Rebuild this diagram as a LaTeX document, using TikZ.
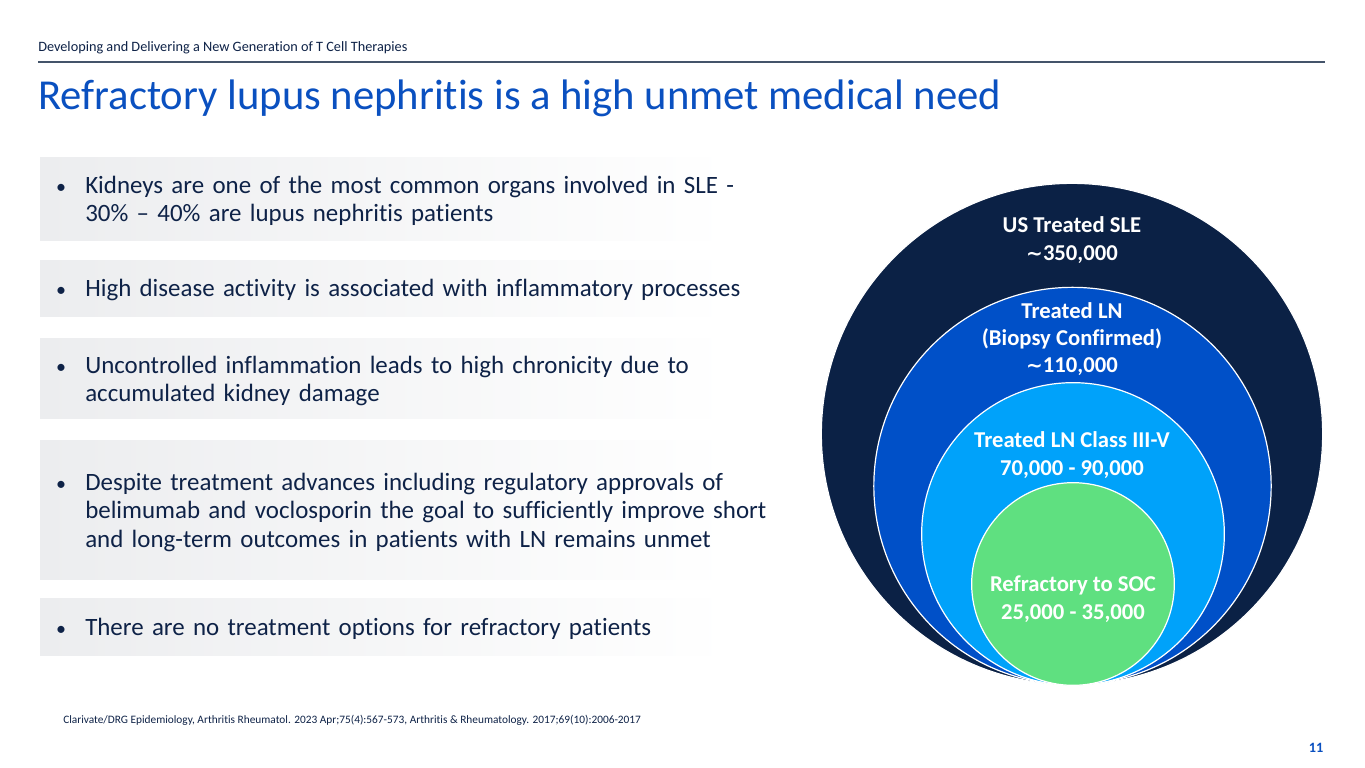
\documentclass[tikz,border=0pt]{standalone}
\usepackage{fontspec}
\setmainfont{Carlito}[Ligatures={NoCommon,NoContextual,NoRare}]
\newfontfamily\symfam{DejaVu Sans}
\definecolor{navy}{HTML}{0B2145}
\definecolor{txtnavy}{HTML}{0E2247}
\definecolor{royal}{HTML}{0050C8}
\definecolor{sky}{HTML}{00A2FA}
\definecolor{mint}{HTML}{5FE080}
\definecolor{titleblue}{HTML}{0A50C0}
\definecolor{rulegray}{HTML}{44546A}
\definecolor{barfill}{HTML}{ECEDEF}
\newcommand{\apx}{{\symfam\fontsize{15}{15}\selectfont ∼}}
\begin{document}
\begin{tikzpicture}[x=0.75pt,y=-0.75pt,
  bar/.style={shading=axis,left color=barfill,right color=white,shading angle=90},
  bullettext/.style={anchor=base west,align=left,text width=560pt,font=\fontsize{18.7}{21.5}\selectfont,text=txtnavy,inner sep=0pt},
  dot/.style={anchor=base,font=\fontsize{15}{21.5}\selectfont,text=txtnavy,inner sep=0pt},
  ring/.style={circle,draw=white,line width=0.9pt,inner sep=0pt},
  ringlabel/.style={align=center,text=white,font=\fontsize{17}{20.5}\selectfont\bfseries,inner sep=0pt}
]
\useasboundingbox (0,0) rectangle (1365,768);
\fill[white] (0,0) rectangle (1365,768);
% header
\node[anchor=base west,inner sep=0pt,text=txtnavy,font=\fontsize{10.7}{12}\selectfont] (hdr) at (38,51) {Developing and Delivering a New Generation of T Cell Therapies};
\coordinate (ruleL) at (38,62);
\coordinate (ruleR) at (1325,62);
\draw[rulegray,line width=0.8pt] (ruleL) -- (ruleR);
% title
\node[anchor=base west,inner sep=0pt,text=titleblue,font=\fontsize{32}{38}\selectfont] (title) at (38,109) {Refractory lupus nephritis is a high unmet medical need};
% bars
\shade[bar] (40,157) rectangle (730,240);
\shade[bar] (40,260) rectangle (730,316);
\shade[bar] (40,338) rectangle (730,418);
\shade[bar] (40,440) rectangle (730,579);
\shade[bar] (40,598) rectangle (730,655);
% bullets
\node[dot] (d1) at (61,193) {•};
\node[bullettext] (t1) at (85,193) {Kidneys are one of the most common organs involved in SLE -\\30\% – 40\% are lupus nephritis patients};
\node[dot] (d2) at (61,296) {•};
\node[bullettext] (t2) at (85,296) {High disease activity is associated with inflammatory processes};
\node[dot] (d3) at (61,373) {•};
\node[bullettext] (t3) at (85,373) {Uncontrolled inflammation leads to high chronicity due to\\accumulated kidney damage};
\node[dot] (d4) at (61,490) {•};
\node[bullettext] (t4) at (85,490) {Despite treatment advances including regulatory approvals of\\belimumab and voclosporin the goal to sufficiently improve short\\and long-term outcomes in patients with LN remains unmet};
\node[dot] (d5) at (61,635) {•};
\node[bullettext] (t5) at (85,635) {There are no treatment options for refractory patients};
% circles
\node[ring,fill=navy,minimum size=376pt] (c1) at (1072,434) {};
\node[ring,fill=royal,minimum size=298pt] (c2) at (1072.5,486) {};
\node[ring,fill=sky,minimum size=227pt] (c3) at (1073,534) {};
\node[ring,fill=mint,minimum size=152pt] (c4) at (1073,584) {};
\node[ringlabel] (l1) at (1072,240) {US Treated SLE\\\apx350,000};
\node[ringlabel] (l2) at (1072,339) {Treated LN\\(Biopsy Confirmed)\\\apx110,000};
\node[ringlabel] (l3) at (1072,455) {Treated LN Class III-V\\70,000 - 90,000};
\node[ringlabel] (l4) at (1073,599) {Refractory to SOC\\25,000 - 35,000};
% footnote
\node[anchor=base west,inner sep=0pt,text=txtnavy,font=\fontsize{8.5}{10}\selectfont] (foot) at (63,723) {Clarivate/DRG Epidemiology, Arthritis Rheumatol. 2023 Apr;75(4):567-573, Arthritis \& Rheumatology. 2017;69(10):2006-2017};
\node[inner sep=0pt,text=titleblue,font=\fontsize{10.7}{12}\selectfont\bfseries] (pg) at (1316,748) {11};
\end{tikzpicture}
\end{document}
